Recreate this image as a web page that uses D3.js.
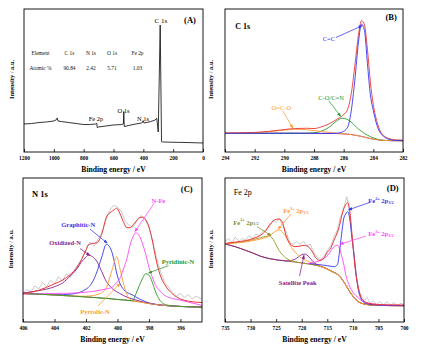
<!DOCTYPE html>
<html>
<head>
<meta charset="utf-8">
<script src="https://cdn.jsdelivr.net/npm/d3@7"></script>
<style>
  body { margin: 0; background: #fff; }
  svg { display: block; }
</style>
</head>
<body>
<svg id="chart"></svg>
<script>
// ---------- (A) survey spectrum ----------
const surveyEV = [1200, 1150, 1100, 1050, 1000, 985, 977, 972, 950, 900, 850, 800, 760, 720, 712, 709, 700, 650, 600, 545, 534, 531, 528, 500, 450, 410, 401, 396, 350, 320, 310, 300, 287, 278, 270, 200, 100, 0];
const surveyI  = [19.6, 19.9, 20.6, 21.0, 21.7, 22.4, 23.8, 21.7, 21.3, 20.6, 19.9, 19.2, 19.2, 19.6, 20.1, 17.1, 17.5, 18.2, 18.9, 19.2, 19.6, 28.3, 17.8, 18.5, 19.6, 20.3, 21.9, 20.3, 21.3, 22.4, 23.6, 14.0, 88.8, 7.3, 7.0, 6.8, 6.6, 6.3];
const tableHeader = ['Element', 'C 1s', 'N 1s', 'O 1s', 'Fe 2p'];
const tableAtomic = ['Atomic %', '90.84', '2.42', '5.71', '1.03'];

// ---------- (B) C 1s ----------
const c1sEV  = [294, 292, 291, 290, 289.3, 288.5, 288, 287.5, 287, 286.5, 286.1, 285.75, 285.5, 285.25, 285, 284.8, 284.6, 284.4, 284.2, 284, 283.75, 283.5, 283.25, 283, 282.5, 282];
const c1sBg  = [13.1, 13.1, 13.1, 13.1, 13.1, 13.1, 13.1, 13.0, 13.0, 12.9, 12.7, 12.5, 12.2, 11.8, 11.3, 10.9, 10.4, 9.9, 9.4, 9.0, 8.6, 8.3, 8.1, 8.0, 7.9, 7.9];
const c1sCC  = [13.1, 13.1, 13.1, 13.1, 13.1, 13.1, 13.1, 13.0, 13.0, 13.1, 14.0, 17.0, 28, 50, 77, 89.5, 85, 62, 40, 29, 18.5, 13, 10.5, 9.0, 8.1, 7.9];
const c1sCO  = [13.1, 13.1, 13.1, 13.1, 13.1, 13.1, 13.4, 14.6, 17.2, 21.5, 23.6, 22.8, 21.0, 18.5, 16.0, 14.5, 13.0, 11.8, 10.8, 9.9, 9.0, 8.4, 8.1, 8.0, 7.9, 7.9];
const c1sOCO = [13.1, 13.5, 14.3, 15.3, 15.9, 15.6, 15.0, 14.3, 13.7, 13.2, 12.8, 12.5, 12.2, 11.8, 11.3, 10.9, 10.4, 9.9, 9.4, 9.0, 8.6, 8.3, 8.1, 8.0, 7.9, 7.9];
const c1sFit = [13.2, 13.7, 14.5, 15.7, 16.4, 16.6, 16.4, 17.6, 19.6, 22.6, 25.3, 29.5, 40, 60, 82, 91.8, 89, 72, 49, 33, 21, 14, 11, 9.6, 8.5, 8.3];

// ---------- (C) N 1s ----------
const n1sEV    = [406, 405, 404, 403.5, 403, 402.6, 402.3, 402, 401.85, 401.6, 401.3, 401, 400.7, 400.4, 400.2, 400.05, 399.85, 399.6, 399.4, 399.2, 399, 398.85, 398.6, 398.4, 398.2, 398, 397.8, 397.6, 397.3, 397, 396.5, 396, 395.5, 394.6];
const n1sBg    = [19.8, 19.3, 18.75, 18.4, 18.1, 17.8, 17.6, 17.4, 17.3, 17.1, 16.9, 16.6, 16.4, 16.1, 15.9, 15.7, 15.5, 15.3, 15.1, 14.8, 14.6, 14.4, 14.0, 13.6, 13.2, 12.8, 12.5, 12.2, 11.8, 11.5, 11.1, 10.8, 10.6, 10.4];
const n1sOxid  = [20.2, 21.8, 24.5, 27, 32, 36.5, 41.5, 45, 46.5, 45.5, 42, 35, 28, 24, 22, 21, 19.8, 18.3, 17.3, 16.5, 15.8, 15.3, 14.6, 14.0, 13.5, 13.0, 12.6, 12.3, 11.8, 11.5, 11.1, 10.8, 10.6, 10.4];
const n1sGraph = [19.8, 19.4, 19.0, 19.0, 19.3, 20.0, 21.0, 22.8, 24.0, 27.5, 35, 45, 54, 50, 42, 34, 27, 22.5, 20.5, 19.5, 18.5, 17.5, 16, 15, 14, 13.3, 12.7, 12.3, 11.8, 11.5, 11.1, 10.8, 10.6, 10.4];
const n1sPyrr  = [19.8, 19.3, 18.8, 18.5, 18.2, 18.0, 17.9, 17.9, 18.0, 18.3, 19.0, 20.3, 24, 34, 41.5, 45.4, 37.5, 26, 19, 15.5, 14.6, 14.4, 14.0, 13.6, 13.2, 12.8, 12.5, 12.2, 11.8, 11.5, 11.1, 10.8, 10.6, 10.4];
const n1sNFe   = [19.5, 19.6, 19.8, 19.9, 20.0, 20.2, 20.4, 20.7, 20.9, 21.2, 21.7, 22.3, 23.0, 23.8, 25.5, 27.5, 30.3, 37.5, 44, 53.5, 59.5, 62, 59.5, 54, 47, 38, 31.5, 26, 21.5, 18.5, 16.3, 15.2, 13.8, 11.5];
const n1sPyrid = [19.8, 19.3, 18.75, 18.4, 18.1, 17.8, 17.6, 17.4, 17.3, 17.1, 16.9, 16.6, 16.4, 16.1, 15.9, 15.7, 15.5, 15.3, 15.1, 14.9, 15.3, 19, 25.5, 30.5, 33.5, 32.5, 28, 21.5, 15, 12.3, 11.2, 10.8, 10.6, 10.4];
const n1sFit   = [19.5, 22, 26.5, 29, 33, 37.5, 43, 50, 53.5, 54.5, 55, 61, 73, 76.5, 78, 79, 75.5, 69, 65.5, 65.5, 67.5, 69.5, 72.5, 72.8, 71, 66, 57.5, 46, 33, 26, 19.5, 16, 14.5, 13.5];
const n1sRawEV = [406, 405.75, 405.5, 405.25, 405, 404.75, 404.5, 404.25, 404, 403.75, 403.5, 403.25, 403, 402.75, 402.5, 402.25, 402, 401.75, 401.5, 401.25, 401, 400.75, 400.5, 400.25, 400, 399.75, 399.5, 399.25, 399, 398.75, 398.5, 398.25, 398, 397.75, 397.5, 397.25, 397, 396.75, 396.5, 396.25, 396, 395.75, 395.5, 395.25, 395, 394.6];
const n1sRaw   = [20, 22.5, 21, 25, 23, 27.5, 24.5, 29, 26.5, 31.5, 28.5, 33.5, 31, 36, 40, 44, 50, 55.5, 52.5, 57, 62, 70, 77.5, 81, 80, 76.5, 70, 67, 66, 70.5, 74, 71, 66, 55, 44, 34.5, 27.5, 24, 20.5, 18, 20, 17, 19, 16, 18, 15.5];

// ---------- (D) Fe 2p ----------
const fe2pEV    = [735, 733, 731, 729.5, 728, 727, 726.3, 725.6, 725, 724.4, 723.7, 723.1, 722.5, 722, 721.3, 720.6, 720, 719.5, 719, 718.4, 717.8, 717.2, 716.5, 715.8, 715, 714.3, 713.6, 713, 712.6, 712.2, 711.8, 711.4, 711, 710.6, 710.2, 709.8, 709.4, 709, 708.5, 708, 707, 705.5, 703, 700];
const fe2pBg    = [54.2, 52.3, 49.8, 47.8, 45.6, 44.6, 44.0, 43.6, 43.2, 42.9, 42.6, 42.3, 42.1, 41.9, 41.6, 41.3, 41.0, 40.8, 40.5, 40.2, 39.8, 39.4, 38.8, 38.0, 36.8, 35.5, 34.3, 33.0, 31.8, 30.0, 28.0, 25.8, 23.4, 21.0, 19.0, 17.0, 15.5, 14.2, 13.3, 12.7, 12.0, 11.6, 11.4, 11.3];
const fe2pSat   = [54.2, 52.3, 49.8, 47.8, 45.6, 44.6, 44.0, 43.6, 43.2, 42.9, 42.7, 42.5, 42.5, 42.8, 43.6, 45.3, 46.7, 47.2, 46.6, 44.5, 42.0, 40.2, 39.0, 38.0, 36.8, 35.5, 34.3, 33.0, 31.8, 30.0, 28.0, 25.8, 23.4, 21.0, 19.0, 17.0, 15.5, 14.2, 13.3, 12.7, 12.0, 11.6, 11.4, 11.3];
const fe2pFe2Half = [54.4, 55.0, 56.0, 57.2, 58.6, 59.5, 59.7, 57.5, 53.5, 49.5, 46.5, 44.5, 43.2, 42.5, 41.9, 41.4, 41.0, 40.8, 40.5, 40.2, 39.8, 39.4, 38.8, 38.0, 36.8, 35.5, 34.3, 33.0, 31.8, 30.0, 28.0, 25.8, 23.4, 21.0, 19.0, 17.0, 15.5, 14.2, 13.3, 12.7, 12.0, 11.6, 11.4, 11.3];
const fe2pFe3Half = [54.3, 54.8, 55.6, 56.5, 57.7, 58.8, 60.0, 61.8, 63.3, 63.9, 62.0, 59.2, 55.0, 51.8, 48.5, 46.0, 44.3, 43.3, 42.5, 41.5, 40.6, 39.8, 38.9, 38.0, 36.8, 35.5, 34.3, 33.0, 31.8, 30.0, 28.0, 25.8, 23.4, 21.0, 19.0, 17.0, 15.5, 14.2, 13.3, 12.7, 12.0, 11.6, 11.4, 11.3];
const fe2pFe2Main = [null, null, null, null, null, null, null, null, null, null, null, null, null, null, null, null, null, null, null, 40.5, 40.3, 40.1, 39.8, 39.5, 39.1, 38.7, 38.4, 40.1, 49, 61, 71.5, 75, 76.6, 71.5, 59, 48, 34.5, 23.4, 17, 14, 12.5, 11.8, 11.5, 11.4];
const fe2pFe3Main = [null, null, null, null, null, null, null, null, null, null, null, null, null, null, null, null, null, null, 40.5, 40.8, 41.2, 41.7, 42.5, 43.8, 46, 49.5, 52.5, 53.3, 51, 46, 40.5, 33, 28, 24.5, 21.8, 19.8, 18.2, 17, 15.5, 14.5, 13.2, 12.2, 11.6, 11.4];
const fe2pFit   = [54.6, 55.5, 56.5, 58.0, 60.4, 63.5, 67.4, 70.0, 71.3, 71.5, 68.5, 60.4, 55.5, 53.3, 52.3, 52.5, 53.0, 53.2, 52.8, 51.3, 48.0, 44.2, 42.8, 43.8, 48.5, 51.5, 57.5, 62.5, 67.0, 73.5, 78.5, 81.5, 82.9, 77.0, 62.0, 46.0, 33.0, 25.0, 18.0, 15.0, 13.0, 12.3, 11.9, 11.8];
const fe2pRawEV = [735, 734.3, 733.6, 733, 732.3, 731.6, 731, 730.3, 729.6, 729, 728.3, 727.6, 727, 726.3, 725.6, 725, 724.4, 723.7, 723, 722.3, 721.6, 721, 720.3, 719.6, 719, 718.3, 717.6, 717, 716.3, 715.6, 715, 714.3, 713.6, 713, 712.5, 712, 711.5, 711.2, 710.8, 710.4, 710, 709.6, 709.2, 708.7, 708.2, 707.7, 707.2, 706.6, 706, 705.4, 704.8, 704, 703.3, 702.6, 702, 701.3, 700.6, 700];
const fe2pRaw   = [56, 58, 55, 59, 56, 58, 57, 60, 58, 61, 60, 63, 64, 66, 71, 69, 72, 67, 62, 55, 54, 56, 54, 56, 53, 54, 48, 45, 43, 46, 50, 53, 60, 64, 72, 76, 83, 87, 80, 68, 55, 41, 29, 21, 17, 15, 17, 13, 15, 12, 14, 12, 14, 11.5, 13.5, 11.5, 13, 12];

// tick labels
const ticksA = [1200, 1000, 800, 600, 400, 200, 0];
const ticksB = [294, 292, 290, 288, 286, 284, 282];
const ticksC = [406, 404, 402, 400, 398, 396];
const ticksD = [735, 730, 725, 720, 715, 710, 705, 700];

const SERIF = '"Liberation Serif", "Times New Roman", serif';
const RED = '#ee3535', BLUE = '#3434f0', GREEN = '#2a9a2a', ORANGE = '#ff9a33',
      MAGENTA = '#ff45ff', PURPLE = '#8b1c8e', OLIVE = '#9c9c22', BROWN = '#8b5a2b', GRAY = '#bdbdbd';

const svg = d3.select('#chart').attr('width', 423).attr('height', 350);
const defs = svg.append('defs');
const markers = {};

function marker(color) {
  if (markers[color]) return markers[color];
  const id = 'arr' + Object.keys(markers).length;
  defs.append('marker')
      .attr('id', id)
      .attr('viewBox', '0 0 10 10')
      .attr('refX', 9).attr('refY', 5)
      .attr('markerWidth', 5.5).attr('markerHeight', 5.5)
      .attr('orient', 'auto')
    .append('path')
      .attr('d', 'M0,1L10,5L0,9z')
      .attr('fill', color);
  markers[color] = id;
  return id;
}

// text with optional super/subscripts: parts like ['Fe', '^2+', ' 2p', '_3/2']
function addText(g, x, y, parts, opt) {
  const t = g.append('text')
      .attr('x', x).attr('y', y)
      .attr('text-anchor', opt.anchor || 'middle')
      .attr('dominant-baseline', 'central')
      .attr('font-family', SERIF)
      .attr('font-size', opt.size)
      .attr('font-weight', opt.bold ? 'bold' : 'normal')
      .attr('fill', opt.color || '#000');
  let shift = 0;
  parts.forEach(p => {
    let dy = 0, txt = p, fs = null;
    if (p[0] === '^') { txt = p.slice(1); dy = -2.2 - shift; shift = -2.2; fs = opt.size * 0.65; }
    else if (p[0] === '_') { txt = p.slice(1); dy = 1.8 - shift; shift = 1.8; fs = opt.size * 0.65; }
    else { dy = -shift; shift = 0; }
    const s = t.append('tspan').attr('dy', dy).text(txt);
    if (fs) s.attr('font-size', fs);
  });
  return t;
}

function drawPanel(p) {
  const x = d3.scaleLinear().domain(p.xDomain).range([p.left, p.right]);
  const y = d3.scaleLinear().domain([0, 100]).range([p.bottom, p.top]);
  const g = svg.append('g');

  const clipId = 'clip' + p.id;
  defs.append('clipPath').attr('id', clipId)
    .append('rect')
      .attr('x', p.left).attr('y', p.top)
      .attr('width', p.right - p.left).attr('height', p.bottom - p.top);

  const plot = g.append('g').attr('clip-path', `url(#${clipId})`);
  p.series.forEach(s => {
    const line = d3.line()
        .defined(d => d[1] != null)
        .x(d => x(d[0]))
        .y(d => y(d[1]))
        .curve(s.curve || d3.curveMonotoneX);
    plot.append('path')
        .datum(d3.zip(s.xs, s.ys))
        .attr('d', line)
        .attr('fill', 'none')
        .attr('stroke', s.color)
        .attr('stroke-width', s.width || 0.9)
        .attr('stroke-linejoin', 'round');
  });

  // bottom axis, ticks pointing inwards
  const axis = d3.axisBottom(x)
      .tickValues(p.ticks)
      .tickFormat(d3.format('d'))
      .tickSizeInner(-3)
      .tickSizeOuter(0)
      .tickPadding(4);
  const ax = g.append('g')
      .attr('transform', `translate(0,${p.bottom})`)
      .call(axis);
  ax.select('.domain').remove();
  ax.selectAll('.tick line').attr('stroke', '#000').attr('stroke-width', 0.8);
  ax.selectAll('.tick text')
      .attr('font-family', SERIF)
      .attr('font-size', 5.4)
      .attr('font-weight', 'bold')
      .attr('fill', '#000');

  // frame
  g.append('rect')
      .attr('x', p.left).attr('y', p.top)
      .attr('width', p.right - p.left).attr('height', p.bottom - p.top)
      .attr('fill', 'none')
      .attr('stroke', '#000')
      .attr('stroke-width', 0.9);

  // axis titles
  addText(g, (p.left + p.right) / 2, p.bottom + 17, ['Binding energy / eV'], { size: 7.6, bold: true });
  addText(g, 0, 0, ['Intensity / a.u.'], { size: 6.4, bold: true })
      .attr('transform', `translate(${p.yTitleX},${(p.top + p.bottom) / 2 - 1}) rotate(-90)`);

  // annotations
  (p.notes || []).forEach(n => {
    if (n.arrow) {
      g.append('line')
          .attr('x1', x(n.arrow[0])).attr('y1', y(n.arrow[1]))
          .attr('x2', x(n.arrow[2])).attr('y2', y(n.arrow[3]))
          .attr('stroke', n.color)
          .attr('stroke-width', 0.75)
          .attr('marker-end', `url(#${marker(n.color)})`);
    }
    addText(g, x(n.x), y(n.y), n.parts, { size: n.size, bold: n.bold, color: n.color });
  });

  return { x, y, g };
}

// ---- panel A ----
const A = drawPanel({
  id: 'A', left: 24, right: 203, top: 9, bottom: 152, yTitleX: 11,
  xDomain: [1200, 0], ticks: ticksA,
  series: [{ xs: surveyEV, ys: surveyI, color: '#111', width: 0.85, curve: d3.curveLinear }],
  notes: [
    { parts: ['C 1s'], x: 282, y: 91.6, size: 7, color: '#000' },
    { parts: ['(A)'], x: 87, y: 92.3, size: 8.5, bold: true, color: '#000' },
    { parts: ['O 1s'], x: 533, y: 29.4, size: 6.5, color: '#000' },
    { parts: ['Fe 2p'], x: 717, y: 23.8, size: 6.5, color: '#000' },
    { parts: ['N 1s'], x: 402, y: 23.8, size: 6.5, color: '#000' }
  ]
});
const tableCols = [1090, 895, 751, 610, 439];
[[tableHeader, 69.2], [tableAtomic, 58.7]].forEach(([row, v]) => {
  row.forEach((cell, i) => {
    addText(A.g, A.x(tableCols[i]), A.y(v), [cell], { size: 5.4, color: '#111' });
  });
});

// ---- panel B ----
drawPanel({
  id: 'B', left: 225, right: 403, top: 9, bottom: 152, yTitleX: 210,
  xDomain: [294, 282], ticks: ticksB,
  series: [
    { xs: c1sEV, ys: c1sBg, color: PURPLE },
    { xs: c1sEV, ys: c1sCO, color: GREEN },
    { xs: c1sEV, ys: c1sOCO, color: ORANGE },
    { xs: c1sEV, ys: c1sFit, color: RED },
    { xs: c1sEV, ys: c1sCC, color: BLUE }
  ],
  notes: [
    { parts: ['C 1s'], x: 292.8, y: 88.1, size: 8, bold: true, color: '#000' },
    { parts: ['(B)'], x: 282.8, y: 94.4, size: 8.5, bold: true, color: '#000' },
    { parts: ['C=C'], x: 287.0, y: 79.7, size: 6.5, color: BLUE, arrow: [286.52, 80.1, 284.75, 88.3] },
    { parts: ['C-O/C=N'], x: 286.85, y: 38.7, size: 6.5, color: GREEN, arrow: [287.0, 35.8, 286.2, 24.9] },
    { parts: ['O=C-O'], x: 290.2, y: 31.5, size: 6.5, color: ORANGE, arrow: [290.1, 28.8, 289.43, 16.7] }
  ]
});

// ---- panel C ----
drawPanel({
  id: 'C', left: 23, right: 202, top: 178, bottom: 322, yTitleX: 9.5,
  xDomain: [406, 394.63], ticks: ticksC,
  series: [
    { xs: n1sRawEV, ys: n1sRaw, color: GRAY, width: 0.8, curve: d3.curveLinear },
    { xs: n1sEV, ys: n1sBg, color: BROWN },
    { xs: n1sEV, ys: n1sOxid, color: PURPLE },
    { xs: n1sEV, ys: n1sGraph, color: BLUE },
    { xs: n1sEV, ys: n1sPyrr, color: ORANGE },
    { xs: n1sEV, ys: n1sNFe, color: MAGENTA },
    { xs: n1sEV, ys: n1sPyrid, color: GREEN },
    { xs: n1sEV, ys: n1sFit, color: RED, width: 1 }
  ],
  notes: [
    { parts: ['N 1s'], x: 404.92, y: 88.7, size: 8.5, bold: true, color: '#000' },
    { parts: ['(C)'], x: 395.6, y: 92.4, size: 8.5, bold: true, color: '#000' },
    { parts: ['N-Fe'], x: 397.4, y: 84.7, size: 6.5, bold: true, color: MAGENTA, arrow: [397.68, 82.3, 398.89, 62.8] },
    { parts: ['Graphitic-N'], x: 402.49, y: 68, size: 6.5, bold: true, color: BLUE, arrow: [401.75, 64.6, 400.65, 54.8] },
    { parts: ['Oxidized-N'], x: 403.33, y: 55.6, size: 6.5, bold: true, color: PURPLE, arrow: [402.38, 51.0, 401.75, 46.2] },
    { parts: ['Pyridinic-N'], x: 396.16, y: 42.4, size: 6.5, bold: true, color: GREEN, arrow: [396.75, 39.2, 398.03, 34.0] },
    { parts: ['Pyrrolic-N'], x: 401.43, y: 7.3, size: 6.5, bold: true, color: ORANGE, arrow: [401.24, 11.1, 399.84, 26.7] }
  ]
});

// ---- panel D ----
drawPanel({
  id: 'D', left: 225, right: 404, top: 178, bottom: 322, yTitleX: 210,
  xDomain: [735, 700], ticks: ticksD,
  series: [
    { xs: fe2pRawEV, ys: fe2pRaw, color: GRAY, width: 0.8, curve: d3.curveLinear },
    { xs: fe2pEV, ys: fe2pBg, color: BROWN },
    { xs: fe2pEV, ys: fe2pSat, color: PURPLE },
    { xs: fe2pEV, ys: fe2pFe2Half, color: OLIVE },
    { xs: fe2pEV, ys: fe2pFe3Half, color: ORANGE },
    { xs: fe2pEV, ys: fe2pFe3Main, color: MAGENTA },
    { xs: fe2pEV, ys: fe2pFe2Main, color: BLUE },
    { xs: fe2pEV, ys: fe2pFit, color: RED, width: 1 }
  ],
  notes: [
    { parts: ['Fe 2p'], x: 731.54, y: 90.5, size: 8, color: '#000' },
    { parts: ['(D)'], x: 702.2, y: 93.3, size: 8.5, bold: true, color: '#000' },
    { parts: ['Fe', '^2+', ' 2p', '_3/2'], x: 704.5, y: 84.7, size: 6.5, bold: true, color: BLUE, arrow: [706.74, 83, 710.85, 77.9] },
    { parts: ['Fe', '^3+', ' 2p', '_1/2'], x: 721.12, y: 77.8, size: 6.5, bold: true, color: ORANGE, arrow: [722.1, 75, 724.64, 64.4] },
    { parts: ['Fe', '^2+', ' 2p', '_1/2'], x: 730.9, y: 69.7, size: 6.5, bold: true, color: '#8c8c1e', arrow: [728.74, 66.3, 726.0, 60.0] },
    { parts: ['Fe', '^3+', ' 2p', '_3/2'], x: 704.5, y: 61.6, size: 6.5, bold: true, color: MAGENTA, arrow: [707.43, 59.7, 712.51, 54.0] },
    { parts: ['Satellite Peak'], x: 720.78, y: 27.6, size: 6.5, bold: true, color: PURPLE, arrow: [720.43, 31.9, 719.55, 46.4] }
  ]
});
</script>
</body>
</html>
